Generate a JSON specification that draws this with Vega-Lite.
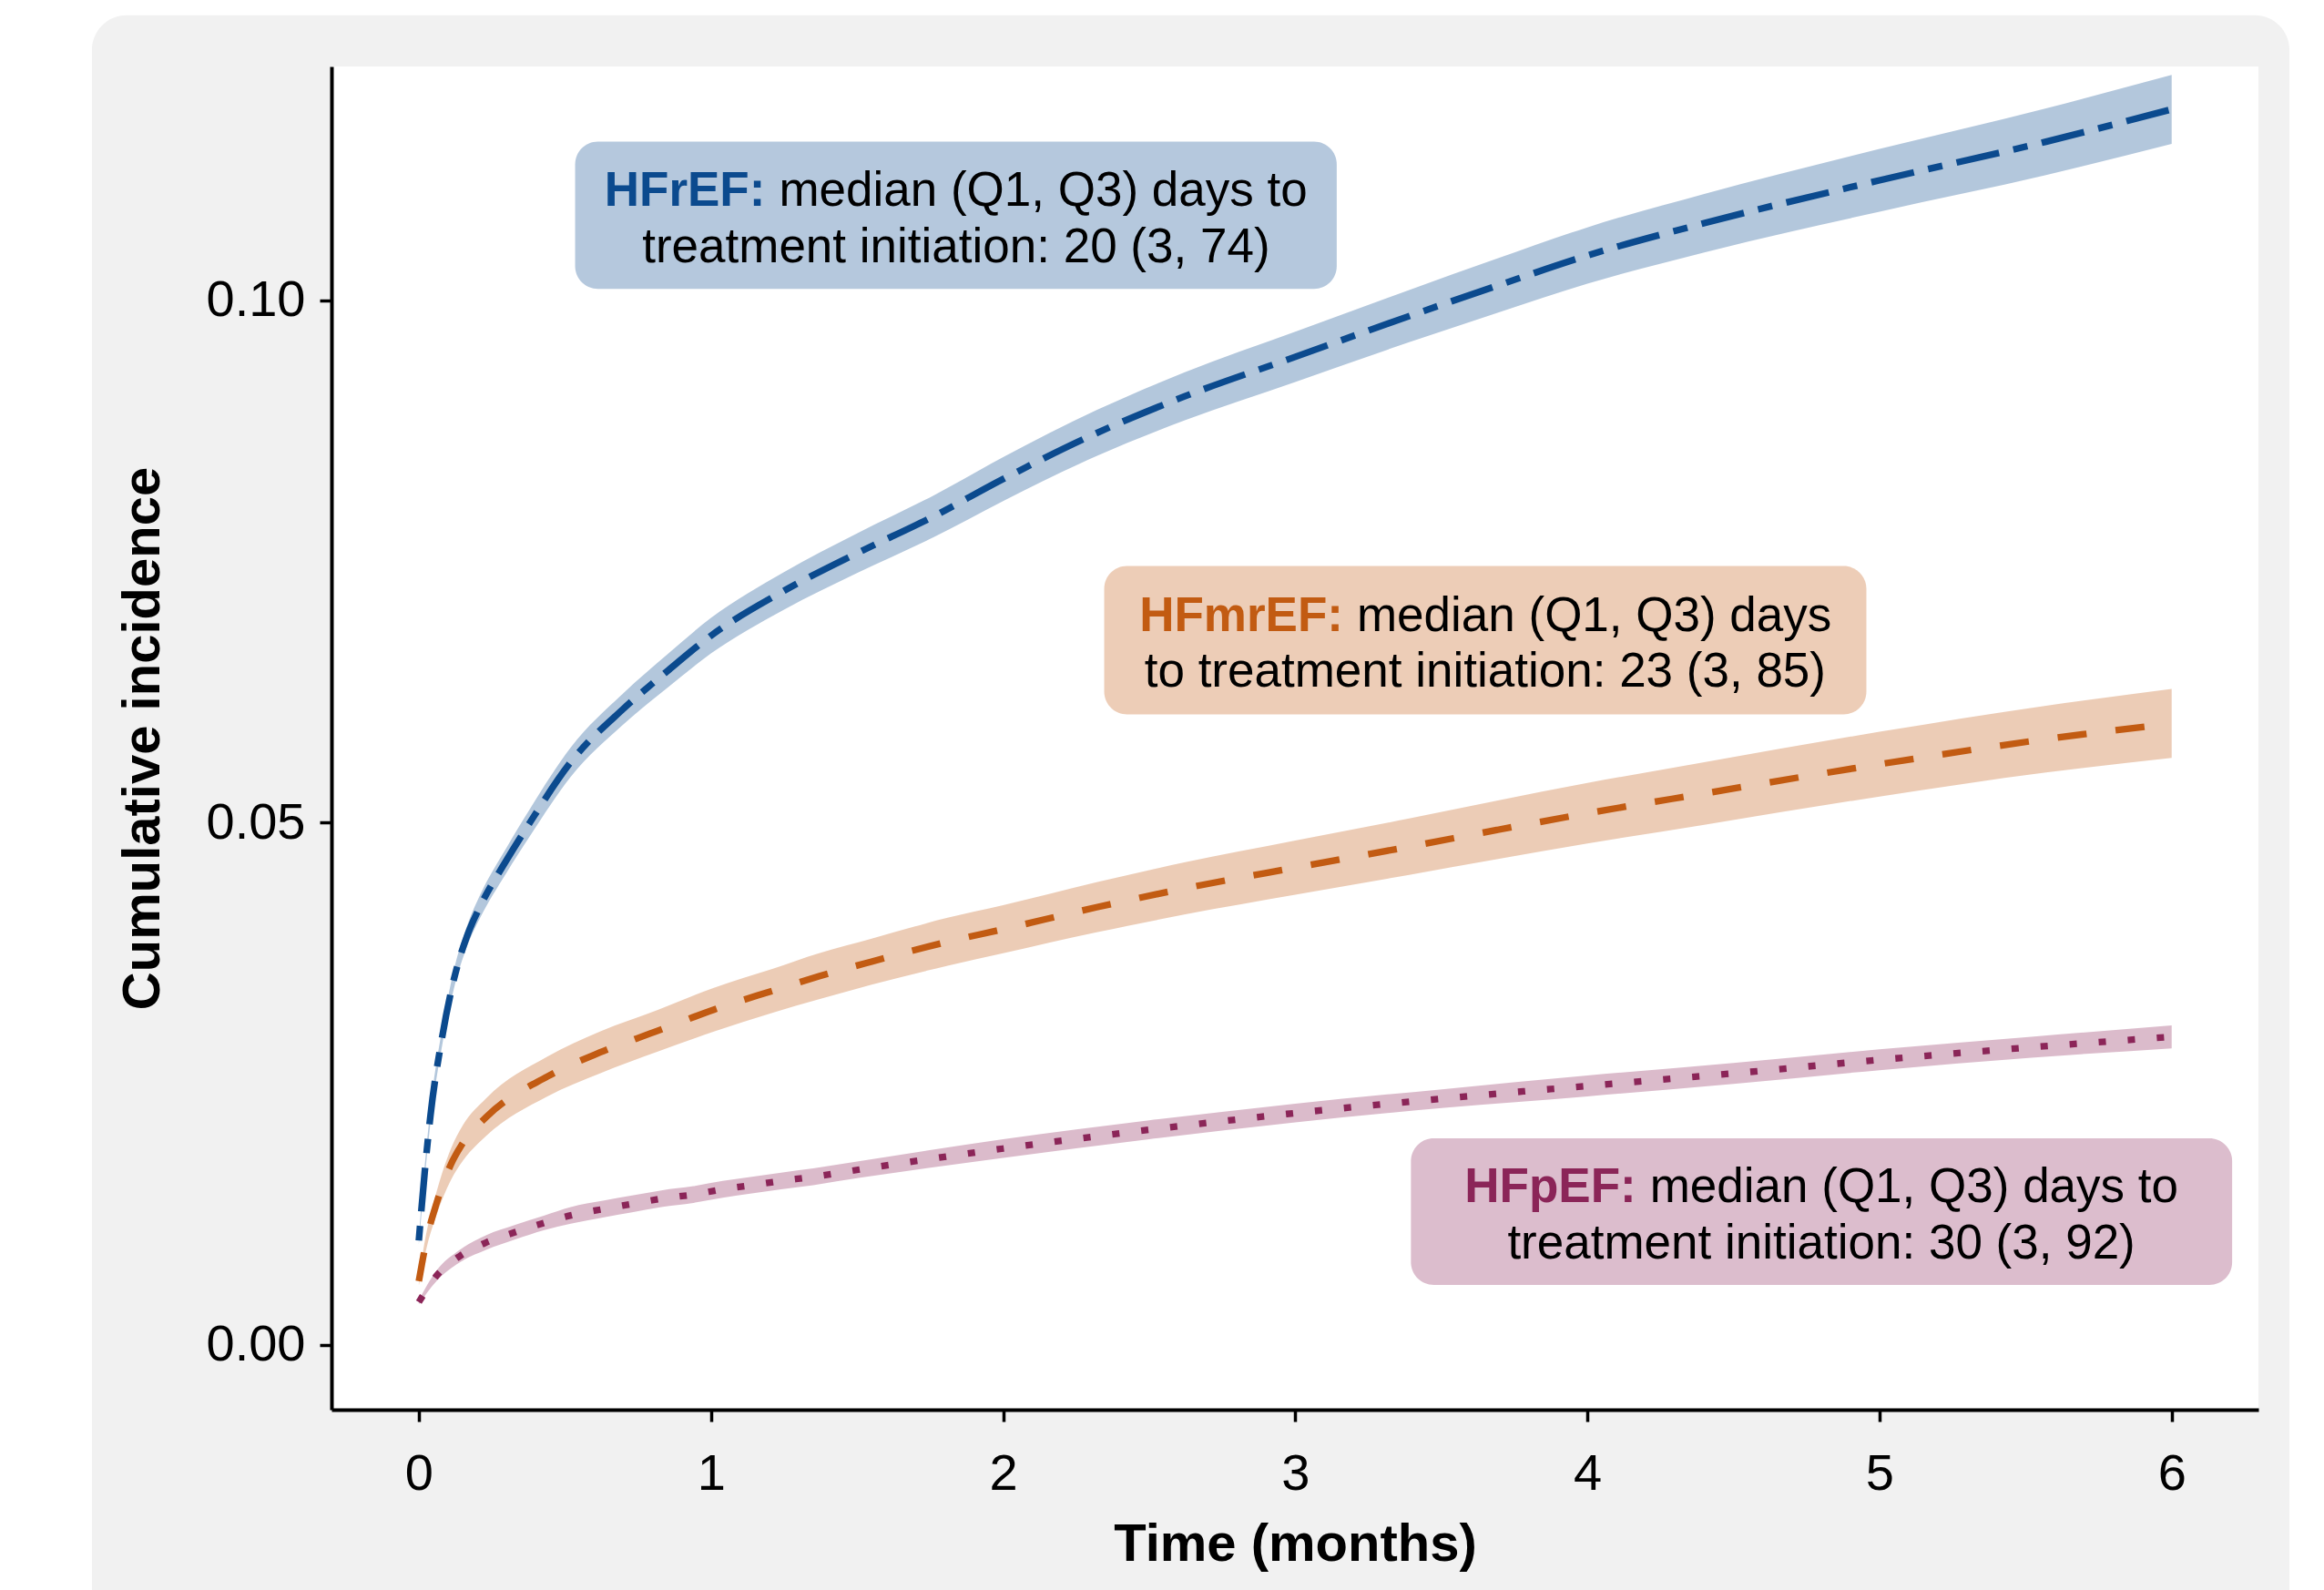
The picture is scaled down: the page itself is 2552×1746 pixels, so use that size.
{
  "$schema": "https://vega.github.io/schema/vega-lite/v6.json",
  "width": 2116,
  "height": 1475,
  "autosize": {"type": "none"},
  "padding": {"left": 364, "top": 73, "right": 72, "bottom": 198},
  "background": "white",
  "config": {
    "view": {"stroke": null},
    "font": "Liberation Sans",
    "axis": {
      "grid": false, "zindex": 2,
      "domainColor": "black", "domainWidth": 4,
      "tickColor": "black", "tickWidth": 3.5, "tickSize": 13,
      "labelColor": "black", "labelFont": "Liberation Sans", "labelFontSize": 56,
      "titleColor": "black", "titleFont": "Liberation Sans", "titleFontSize": 58, "titleFontWeight": "bold"
    }
  },
  "datasets": {
    "curves": [
      {"group": "HFrEF", "t": 0, "est": 0.0100, "lo": 0.0096, "hi": 0.0104},
      {"group": "HFrEF", "t": 0.02, "est": 0.0165, "lo": 0.0159, "hi": 0.0171},
      {"group": "HFrEF", "t": 0.04, "est": 0.0220, "lo": 0.0213, "hi": 0.0227},
      {"group": "HFrEF", "t": 0.08, "est": 0.0295, "lo": 0.0287, "hi": 0.0303},
      {"group": "HFrEF", "t": 0.12, "est": 0.0350, "lo": 0.0341, "hi": 0.0359},
      {"group": "HFrEF", "t": 0.17, "est": 0.0395, "lo": 0.0385, "hi": 0.0405},
      {"group": "HFrEF", "t": 0.21, "est": 0.0420, "lo": 0.0409, "hi": 0.0431},
      {"group": "HFrEF", "t": 0.30, "est": 0.0464, "lo": 0.0452, "hi": 0.0476},
      {"group": "HFrEF", "t": 0.38, "est": 0.0500, "lo": 0.0487, "hi": 0.0513},
      {"group": "HFrEF", "t": 0.52, "est": 0.0558, "lo": 0.0544, "hi": 0.0572},
      {"group": "HFrEF", "t": 0.70, "est": 0.0609, "lo": 0.0594, "hi": 0.0624},
      {"group": "HFrEF", "t": 0.85, "est": 0.0645, "lo": 0.0629, "hi": 0.0661},
      {"group": "HFrEF", "t": 1.00, "est": 0.0679, "lo": 0.0662, "hi": 0.0696},
      {"group": "HFrEF", "t": 1.25, "est": 0.0722, "lo": 0.0704, "hi": 0.0740},
      {"group": "HFrEF", "t": 1.50, "est": 0.0758, "lo": 0.0739, "hi": 0.0777},
      {"group": "HFrEF", "t": 1.76, "est": 0.0793, "lo": 0.0773, "hi": 0.0813},
      {"group": "HFrEF", "t": 2.00, "est": 0.0829, "lo": 0.0808, "hi": 0.0850},
      {"group": "HFrEF", "t": 2.32, "est": 0.0873, "lo": 0.0851, "hi": 0.0895},
      {"group": "HFrEF", "t": 2.62, "est": 0.0908, "lo": 0.0885, "hi": 0.0931},
      {"group": "HFrEF", "t": 3.00, "est": 0.0946, "lo": 0.0922, "hi": 0.0970},
      {"group": "HFrEF", "t": 3.39, "est": 0.0985, "lo": 0.0960, "hi": 0.1010},
      {"group": "HFrEF", "t": 3.69, "est": 0.1014, "lo": 0.0988, "hi": 0.1040},
      {"group": "HFrEF", "t": 4.00, "est": 0.1043, "lo": 0.1016, "hi": 0.1070},
      {"group": "HFrEF", "t": 4.40, "est": 0.1074, "lo": 0.1046, "hi": 0.1102},
      {"group": "HFrEF", "t": 5.00, "est": 0.1115, "lo": 0.1085, "hi": 0.1145},
      {"group": "HFrEF", "t": 5.57, "est": 0.1152, "lo": 0.1120, "hi": 0.1184},
      {"group": "HFrEF", "t": 6.00, "est": 0.1183, "lo": 0.1150, "hi": 0.1216},
      {"group": "HFmrEF", "t": 0, "est": 0.0061, "lo": 0.0057, "hi": 0.0065},
      {"group": "HFmrEF", "t": 0.03, "est": 0.0105, "lo": 0.0097, "hi": 0.0113},
      {"group": "HFmrEF", "t": 0.06, "est": 0.0135, "lo": 0.0124, "hi": 0.0146},
      {"group": "HFmrEF", "t": 0.11, "est": 0.0173, "lo": 0.0158, "hi": 0.0188},
      {"group": "HFmrEF", "t": 0.15, "est": 0.0193, "lo": 0.0176, "hi": 0.0210},
      {"group": "HFmrEF", "t": 0.23, "est": 0.0218, "lo": 0.0200, "hi": 0.0236},
      {"group": "HFmrEF", "t": 0.44, "est": 0.0257, "lo": 0.0238, "hi": 0.0276},
      {"group": "HFmrEF", "t": 0.62, "est": 0.0280, "lo": 0.0260, "hi": 0.0300},
      {"group": "HFmrEF", "t": 0.82, "est": 0.0301, "lo": 0.0281, "hi": 0.0321},
      {"group": "HFmrEF", "t": 1.01, "est": 0.0321, "lo": 0.0300, "hi": 0.0342},
      {"group": "HFmrEF", "t": 1.21, "est": 0.0339, "lo": 0.0318, "hi": 0.0360},
      {"group": "HFmrEF", "t": 1.37, "est": 0.0353, "lo": 0.0331, "hi": 0.0375},
      {"group": "HFmrEF", "t": 1.55, "est": 0.0367, "lo": 0.0345, "hi": 0.0389},
      {"group": "HFmrEF", "t": 1.81, "est": 0.0386, "lo": 0.0363, "hi": 0.0409},
      {"group": "HFmrEF", "t": 2.00, "est": 0.0398, "lo": 0.0375, "hi": 0.0421},
      {"group": "HFmrEF", "t": 2.32, "est": 0.0419, "lo": 0.0395, "hi": 0.0443},
      {"group": "HFmrEF", "t": 2.62, "est": 0.0437, "lo": 0.0412, "hi": 0.0462},
      {"group": "HFmrEF", "t": 3.00, "est": 0.0457, "lo": 0.0431, "hi": 0.0483},
      {"group": "HFmrEF", "t": 3.39, "est": 0.0477, "lo": 0.0450, "hi": 0.0504},
      {"group": "HFmrEF", "t": 3.69, "est": 0.0493, "lo": 0.0465, "hi": 0.0521},
      {"group": "HFmrEF", "t": 4.00, "est": 0.0509, "lo": 0.0480, "hi": 0.0538},
      {"group": "HFmrEF", "t": 4.40, "est": 0.0528, "lo": 0.0498, "hi": 0.0558},
      {"group": "HFmrEF", "t": 5.00, "est": 0.0556, "lo": 0.0525, "hi": 0.0587},
      {"group": "HFmrEF", "t": 5.57, "est": 0.0580, "lo": 0.0548, "hi": 0.0612},
      {"group": "HFmrEF", "t": 6.00, "est": 0.0595, "lo": 0.0562, "hi": 0.0628},
      {"group": "HFpEF", "t": 0, "est": 0.0041, "lo": 0.0039, "hi": 0.0043},
      {"group": "HFpEF", "t": 0.06, "est": 0.0066, "lo": 0.0061, "hi": 0.0071},
      {"group": "HFpEF", "t": 0.14, "est": 0.0085, "lo": 0.0079, "hi": 0.0091},
      {"group": "HFpEF", "t": 0.23, "est": 0.0098, "lo": 0.0091, "hi": 0.0105},
      {"group": "HFpEF", "t": 0.33, "est": 0.0108, "lo": 0.0101, "hi": 0.0115},
      {"group": "HFpEF", "t": 0.43, "est": 0.0117, "lo": 0.0110, "hi": 0.0124},
      {"group": "HFpEF", "t": 0.52, "est": 0.0124, "lo": 0.0116, "hi": 0.0132},
      {"group": "HFpEF", "t": 0.63, "est": 0.0130, "lo": 0.0122, "hi": 0.0138},
      {"group": "HFpEF", "t": 0.73, "est": 0.0135, "lo": 0.0127, "hi": 0.0143},
      {"group": "HFpEF", "t": 0.83, "est": 0.0140, "lo": 0.0132, "hi": 0.0148},
      {"group": "HFpEF", "t": 0.94, "est": 0.0144, "lo": 0.0136, "hi": 0.0152},
      {"group": "HFpEF", "t": 1.04, "est": 0.0149, "lo": 0.0141, "hi": 0.0157},
      {"group": "HFpEF", "t": 1.14, "est": 0.0153, "lo": 0.0145, "hi": 0.0161},
      {"group": "HFpEF", "t": 1.24, "est": 0.0157, "lo": 0.0149, "hi": 0.0165},
      {"group": "HFpEF", "t": 1.35, "est": 0.0161, "lo": 0.0153, "hi": 0.0169},
      {"group": "HFpEF", "t": 1.51, "est": 0.0168, "lo": 0.0160, "hi": 0.0176},
      {"group": "HFpEF", "t": 2.00, "est": 0.0188, "lo": 0.0179, "hi": 0.0197},
      {"group": "HFpEF", "t": 2.50, "est": 0.0206, "lo": 0.0197, "hi": 0.0215},
      {"group": "HFpEF", "t": 3.00, "est": 0.0222, "lo": 0.0213, "hi": 0.0231},
      {"group": "HFpEF", "t": 3.51, "est": 0.0236, "lo": 0.0227, "hi": 0.0245},
      {"group": "HFpEF", "t": 4.00, "est": 0.0248, "lo": 0.0238, "hi": 0.0258},
      {"group": "HFpEF", "t": 4.50, "est": 0.0260, "lo": 0.0250, "hi": 0.0270},
      {"group": "HFpEF", "t": 5.00, "est": 0.0273, "lo": 0.0263, "hi": 0.0283},
      {"group": "HFpEF", "t": 5.52, "est": 0.0285, "lo": 0.0275, "hi": 0.0295},
      {"group": "HFpEF", "t": 6.00, "est": 0.0295, "lo": 0.0284, "hi": 0.0306}
    ],
    "labels": [
      {"group": "HFrEF", "bx1": 0.535, "bx2": 3.142, "by1": 0.1152, "by2": 0.1011, "tj": 1.186, "tc": 1.839, "l1": 0.11046, "l2": 0.10505, "head": "HFrEF:", "rest": "median (Q1, Q3) days to", "line2": "treatment initiation: 20 (3, 74)"},
      {"group": "HFmrEF", "bx1": 2.346, "bx2": 4.955, "by1": 0.07457, "by2": 0.06037, "tj": 3.164, "tc": 3.650, "l1": 0.06978, "l2": 0.06438, "head": "HFmrEF:", "rest": "median (Q1, Q3) days", "line2": "to treatment initiation: 23 (3, 85)"},
      {"group": "HFpEF", "bx1": 3.396, "bx2": 6.207, "by1": 0.01979, "by2": 0.00575, "tj": 4.167, "tc": 4.801, "l1": 0.01508, "l2": 0.00967, "head": "HFpEF:", "rest": "median (Q1, Q3) days to", "line2": "treatment initiation: 30 (3, 92)"}
    ]
  },
  "layer": [
    {
      "data": {"values": [{}]},
      "mark": {"type": "rect", "color": "#f1f1f1", "cornerRadius": 38},
      "encoding": {
        "x": {"datum": -1.119, "type": "quantitative", "scale": {"domain": [-0.299, 6.297], "nice": false, "zero": false}, "axis": {"title": "Time (months)", "values": [0, 1, 2, 3, 4, 5, 6], "format": "d", "labelPadding": 30, "titlePadding": 21, "zindex": 2}},
        "x2": {"datum": 6.403},
        "y": {"datum": 0.1273, "type": "quantitative", "scale": {"domain": [-0.0062, 0.1224], "nice": false, "zero": false}, "axis": {"title": "Cumulative incidence", "values": [0, 0.05, 0.1], "format": ".2f", "labelPadding": 16, "titlePadding": 40, "zindex": 2}},
        "y2": {"datum": -0.03}
      }
    },
    {
      "data": {"values": [{}]},
      "mark": {"type": "rect", "color": "white"},
      "encoding": {
        "x": {"datum": -0.299, "type": "quantitative"},
        "x2": {"datum": 6.297},
        "y": {"datum": 0.1224, "type": "quantitative"},
        "y2": {"datum": -0.0062}
      }
    },
    {
      "data": {"name": "curves"},
      "mark": {"type": "area", "opacity": 0.31, "interpolate": "monotone"},
      "encoding": {
        "x": {"field": "t", "type": "quantitative"},
        "y": {"field": "lo", "type": "quantitative"},
        "y2": {"field": "hi"},
        "color": {"field": "group", "type": "nominal", "scale": {"domain": ["HFrEF", "HFmrEF", "HFpEF"], "range": ["#0b4a8e", "#c25b12", "#8b2558"]}, "legend": null}
      }
    },
    {
      "data": {"name": "curves"},
      "mark": {"type": "line", "strokeWidth": 7.3, "interpolate": "monotone"},
      "encoding": {
        "x": {"field": "t", "type": "quantitative"},
        "y": {"field": "est", "type": "quantitative"},
        "color": {"field": "group", "type": "nominal", "legend": null},
        "strokeDash": {"field": "group", "type": "nominal", "scale": {"domain": ["HFrEF", "HFmrEF", "HFpEF"], "range": [[16, 16, 48, 16], [32, 32], [8, 24]]}, "legend": null}
      }
    },
    {
      "data": {"name": "labels"},
      "mark": {"type": "rect", "cornerRadius": 25, "opacity": 0.3},
      "encoding": {
        "x": {"field": "bx1", "type": "quantitative"},
        "x2": {"field": "bx2"},
        "y": {"field": "by1", "type": "quantitative"},
        "y2": {"field": "by2"},
        "color": {"field": "group", "type": "nominal", "legend": null}
      }
    },
    {
      "data": {"name": "labels"},
      "mark": {"type": "text", "align": "right", "baseline": "middle", "font": "Liberation Sans", "fontSize": 53, "fontWeight": "bold"},
      "encoding": {
        "x": {"field": "tj", "type": "quantitative"},
        "y": {"field": "l1", "type": "quantitative"},
        "text": {"field": "head"},
        "color": {"field": "group", "type": "nominal", "legend": null}
      }
    },
    {
      "data": {"name": "labels"},
      "mark": {"type": "text", "align": "left", "baseline": "middle", "dx": 15, "font": "Liberation Sans", "fontSize": 53, "color": "black"},
      "encoding": {
        "x": {"field": "tj", "type": "quantitative"},
        "y": {"field": "l1", "type": "quantitative"},
        "text": {"field": "rest"}
      }
    },
    {
      "data": {"name": "labels"},
      "mark": {"type": "text", "align": "center", "baseline": "middle", "font": "Liberation Sans", "fontSize": 53, "color": "black"},
      "encoding": {
        "x": {"field": "tc", "type": "quantitative"},
        "y": {"field": "l2", "type": "quantitative"},
        "text": {"field": "line2"}
      }
    }
  ]
}
